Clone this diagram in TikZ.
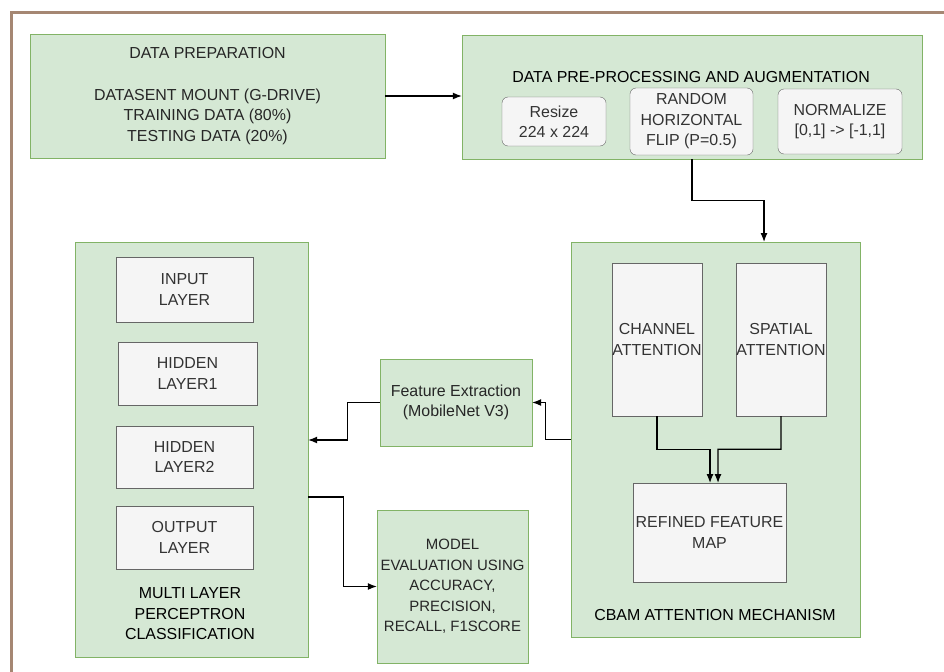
\documentclass[tikz,border=0pt]{standalone}
\usepackage{fontspec}
\setmainfont{Liberation Sans}
\usetikzlibrary{arrows.meta,calc}

\definecolor{stagefill}{HTML}{D5E8D4}
\definecolor{stagedraw}{HTML}{82B366}
\definecolor{partfill}{HTML}{F5F5F5}
\definecolor{partdraw}{HTML}{666666}
\definecolor{frame}{RGB}{165,135,115}

\begin{document}
\begin{tikzpicture}[>={Latex[length=9bp,width=7bp]}, font=\fontsize{16}{20.5}\selectfont]
 \tikzstyle{stage}=[draw=stagedraw, fill=stagefill, inner sep=0pt, align=center, text=black!85]
 \tikzstyle{part}=[draw=partdraw, fill=partfill, inner sep=0pt, align=center, text=black!80]
 \tikzstyle{option}=[part, rounded corners=6bp]
 \tikzstyle{link}=[->, line width=1.2bp]
 \useasboundingbox (0,0) rectangle (944bp,-672bp);
 \draw [frame, line width=3bp] (11bp,-672bp) -- (11bp,-12bp) -- (944bp,-12bp);

 % top row
 \node (prep) at (207.5bp,-96bp) [stage, minimum width=355bp, minimum height=124bp]
 	{DATA PREPARATION\\[21bp] DATASENT MOUNT (G-DRIVE)\\ TRAINING DATA (80\%)\\ TESTING DATA (20\%)};
 \node (pre) at (692bp,-97bp) [stage, minimum width=460bp, minimum height=124bp] {};
 \node (pretitle) at (691bp,-77bp) {DATA PRE-PROCESSING AND AUGMENTATION};
 \node (resize) at (554bp,-121.5bp) [option, minimum width=104bp, minimum height=49bp] {Resize\\ 224 x 224};
 \node (flip) at (691.5bp,-121.5bp) [option, minimum width=123bp, minimum height=67bp] {RANDOM\\ HORIZONTAL\\ FLIP (P=0.5)};
 \node (norm) at (840bp,-121.5bp) [option, minimum width=124bp, minimum height=65bp] {NORMALIZE\\ {[0,1] -> [-1,1]}};

 % cbam block
 \node (cbam) at (715.5bp,-439.5bp) [stage, minimum width=289bp, minimum height=395bp] {};
 \node (chan) at (657bp,-339.5bp) [part, minimum width=90bp, minimum height=153bp] {CHANNEL\\ ATTENTION};
 \node (spat) at (781bp,-339.5bp) [part, minimum width=90bp, minimum height=153bp] {SPATIAL\\ ATTENTION};
 \node (refined) at (709.5bp,-532.5bp) [part, minimum width=153bp, minimum height=99bp] {REFINED FEATURE\\ MAP};
 \node (cbamname) at (715bp,-615bp) {CBAM ATTENTION MECHANISM};

 % middle
 \node (feat) at (456bp,-402.5bp) [stage, minimum width=152bp, minimum height=87bp] {Feature Extraction\\ (MobileNet V3)};
 \node (eval) at (452.5bp,-586.5bp) [stage, minimum width=151bp, minimum height=153bp, font=\fontsize{15}{20.5}\selectfont]
 	{MODEL\\ EVALUATION USING\\ ACCURACY,\\ PRECISION,\\ RECALL, F1SCORE};

 % mlp block
 \node (mlp) at (191.5bp,-449.5bp) [stage, minimum width=233bp, minimum height=415bp] {};
 \node (input) at (184.5bp,-289.5bp) [part, minimum width=137bp, minimum height=65bp] {INPUT\\ LAYER};
 \node (hidden1) at (187.5bp,-373.5bp) [part, minimum width=139bp, minimum height=63bp] {HIDDEN\\ LAYER1};
 \node (hidden2) at (184.5bp,-457bp) [part, minimum width=137bp, minimum height=62bp] {HIDDEN\\ LAYER2};
 \node (output) at (184.5bp,-537.5bp) [part, minimum width=137bp, minimum height=63bp] {OUTPUT\\ LAYER};
 \node (mlpname) at (190bp,-614bp) [align=center] {MULTI LAYER\\ PERCEPTRON\\ CLASSIFICATION};

 \coordinate (cbamin) at (764bp,-242bp);

 \draw [link] (prep.east) -- (prep.east -| pre.west);
 \draw [link] (pre.south) -- ++(0,-41bp) -| (cbamin);
 \draw [link] (chan.south) |- ++(53bp,-33bp) -- (710bp,-483bp);
 \draw [link] (spat.south) |- ++(-63bp,-33bp) -- (718bp,-483bp);
 \draw [link] (cbam.west) -- ++(-25bp,0) |- (feat.east);
 \draw [link] (feat.west) -- ++(-32bp,0) |- ([yshift=9.5bp]mlp.east);
 \draw [link] ([yshift=-47.5bp]mlp.east) -- ++(35bp,0) |- (eval.west);

\end{tikzpicture}
\end{document}
